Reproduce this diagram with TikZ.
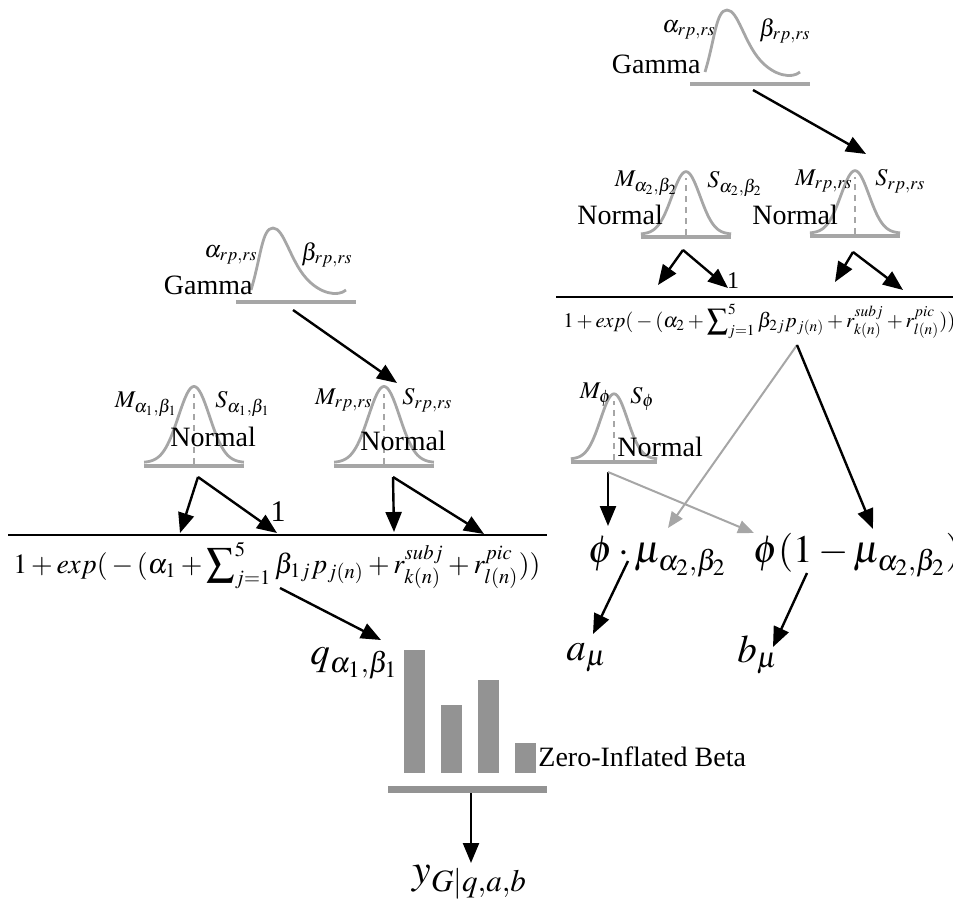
\documentclass[tikz,border=0pt]{standalone}
\usepackage{mathptmx}
\usepackage[no-math]{fontspec}
\setmainfont{Liberation Serif}
\usetikzlibrary{arrows.meta}

\begin{document}
\begin{tikzpicture}[
  x=0.5pt,y=-0.5pt,
  curve/.style={gray!70,line width=1.4pt},
  base/.style={gray!70,line width=2pt},
  par/.style={font=\fontsize{12}{14}\selectfont,inner sep=0pt},
  dist/.style={font=\fontsize{14}{16}\selectfont,inner sep=0pt},
  big/.style={font=\fontsize{19.5}{23}\selectfont,inner sep=0pt},
  ar/.style={-{Triangle[length=10pt,width=8pt]},line width=1.2pt},
  gar/.style={-{Triangle[length=8pt,width=6.5pt]},line width=1pt,gray!70},
  bar/.style={fill=gray!85},
  bell/.pic={
    \draw[curve] plot[domain=-48:48,samples=61,smooth] (\x,{-3-68*exp(-(\x/15)*(\x/15)/2)});
    \draw[curve,line width=0.9pt,dash pattern=on 3pt off 2.5pt] (0,-2) -- (0,-64);
    \draw[base] (-48,0) -- (48,0);
  },
  gam/.pic={
    \draw[curve] (-45,-12) .. controls (-35,-45) and (-34,-74) .. (-23,-74) .. controls (-12,-74) and (-6,-42) .. (10,-24) .. controls (24,-8) and (42,-5) .. (50,-12);
    \draw[base] (-60,0) -- (60,0);
  }
]
\useasboundingbox (0,0) rectangle (953,910);

% right half
\coordinate (gR) at (750,84);
\pic at (gR) {gam};
\node[par,anchor=east] (gRa) at (716,30) {$\alpha_{rp,rs}$};
\node[par,anchor=west] (gRb) at (759,31) {$\beta_{rp,rs}$};
\node[dist,anchor=east] (gRn) at (701,64) {Gamma};

\coordinate (nA2) at (686,237);
\pic[xscale=0.94,yscale=0.92] at (nA2) {bell};
\node[par,anchor=east] (nA2m) at (678,183) {$M_{\alpha_2,\beta_2}$};
\node[par,anchor=west] (nA2s) at (707,184) {$S_{\alpha_2,\beta_2}$};
\node[dist,anchor=west] (nA2n) at (577,215) {Normal};

\coordinate (nRR) at (855,236);
\pic[xscale=0.94,yscale=0.92] at (nRR) {bell};
\node[par,anchor=east] (nRRm) at (853,181) {$M_{rp,rs}$};
\node[par,anchor=west] (nRRs) at (875,181) {$S_{rp,rs}$};
\node[dist,anchor=west] (nRRn) at (752,215) {Normal};

\node[font=\fontsize{12}{14}\selectfont,inner sep=0pt] (oneR) at (733,281) {1};
\draw[line width=1pt] (556,297) coordinate (fR1) -- (953,297) coordinate (fR2);
\node[anchor=base west,inner sep=0pt] (denR) at (563,327) {\resizebox{196pt}{!}{$1+exp({}-{}(\alpha_2+\displaystyle\sum\nolimits_{j=1}^{5}\beta_{2j}p_{j(n)}+r^{subj}_{k(n)}+r^{pic}_{l(n)}))$}};

\coordinate (nPhi) at (614,462);
\pic[xscale=0.9,yscale=0.96] at (nPhi) {bell};
\node[par,anchor=east] (nPhim) at (612,395) {$M_{\phi}$};
\node[par,anchor=west] (nPhis) at (630,399) {$S_{\phi}$};
\node[dist,anchor=west] (nPhin) at (617,447) {Normal};

\node[big,anchor=base west] (phimu) at (588,562) {$\phi\cdot\mu_{\alpha_2,\beta_2}$};
\node[big,anchor=base west] (phione) at (753,562) {$\phi(1-\mu_{\alpha_2,\beta_2})$};
\node[big,anchor=base west] (amu) at (566,660) {$a_{\mu}$};
\node[big,anchor=base west] (bmu) at (737,662) {$b_{\mu}$};

% left half
\coordinate (gL) at (296,302);
\pic at (gL) {gam};
\node[par,anchor=east] (gLa) at (258,255) {$\alpha_{rp,rs}$};
\node[par,anchor=west] (gLb) at (301,255) {$\beta_{rp,rs}$};
\node[dist,anchor=east] (gLn) at (253,285) {Gamma};

\coordinate (nA1) at (194,466);
\pic[xscale=1.04,yscale=1.12] at (nA1) {bell};
\node[par,anchor=east] (nA1m) at (178,404) {$M_{\alpha_1,\beta_1}$};
\node[par,anchor=west] (nA1s) at (215,404) {$S_{\alpha_1,\beta_1}$};
\node[dist,anchor=west] (nA1n) at (170,437) {Normal};

\coordinate (nRL) at (384,466);
\pic[xscale=1.04,yscale=1.12] at (nRL) {bell};
\node[par,anchor=east] (nRLm) at (373,400) {$M_{rp,rs}$};
\node[par,anchor=west] (nRLs) at (402,400) {$S_{rp,rs}$};
\node[dist,anchor=west] (nRLn) at (360,441) {Normal};

\node[font=\fontsize{15}{17}\selectfont,inner sep=0pt] (oneL) at (278,512) {1};
\draw[line width=1pt] (8,535) coordinate (fL1) -- (547,535) coordinate (fL2);
\node[anchor=base west,inner sep=0pt] (denL) at (13,573) {\resizebox{263.5pt}{!}{$1+exp({}-{}(\alpha_1+\displaystyle\sum\nolimits_{j=1}^{5}\beta_{1j}p_{j(n)}+r^{subj}_{k(n)}+r^{pic}_{l(n)}))$}};

\node[big,anchor=base west] (qlab) at (310,664) {$q_{\alpha_1,\beta_1}$};
\fill[bar] (404,650) rectangle (425,773);
\fill[bar] (441,705) rectangle (462,773);
\fill[bar] (478,680) rectangle (499,773);
\fill[bar] (515,743) rectangle (536,773);
\draw[gray!85,line width=3.5pt] (388,789) coordinate (zib1) -- (547,789) coordinate (zib2);
\node[dist,anchor=west] (zib) at (538,757) {Zero-Inflated Beta};
\node[big,font=\fontsize{21}{25}\selectfont,anchor=base west] (ylab) at (412,883) {$y_{G|q,a,b}$};

% arrow ends
\coordinate (gR-o) at (753,90);   \coordinate (nRR-i) at (866,154);
\coordinate (nA2-o) at (683,250); \coordinate (den2-a) at (658,285); \coordinate (den2-b) at (728,288);
\coordinate (nRR-o) at (853,252); \coordinate (den2-c) at (835,282); \coordinate (den2-d) at (903,290);
\coordinate (denR-o) at (797,345);
\coordinate (nPhi-o) at (608,472);
\coordinate (phimu-i) at (608,526); \coordinate (phimu-j) at (668,528);
\coordinate (phione-i) at (754,533); \coordinate (phione-j) at (873,529);
\coordinate (phimu-o) at (628,561); \coordinate (amu-i) at (593,634);
\coordinate (phione-o) at (807,573); \coordinate (bmu-i) at (773,647);
\coordinate (gL-o) at (293,310);  \coordinate (nRL-i) at (397,383);
\coordinate (nA1-o) at (198,477); \coordinate (den1-a) at (180,533); \coordinate (den1-b) at (277,533);
\coordinate (nRL-o) at (393,477); \coordinate (den1-c) at (394,532); \coordinate (den1-d) at (484,534);
\coordinate (denL-o) at (280,588); \coordinate (qlab-i) at (381,640);
\coordinate (zib-o) at (471,793); \coordinate (ylab-i) at (471,863);

\draw[ar] (gR-o) -- (nRR-i);
\draw[ar] (nA2-o) -- (den2-a);
\draw[ar] (nA2-o) -- (den2-b);
\draw[ar] (nRR-o) -- (den2-c);
\draw[ar] (nRR-o) -- (den2-d);
\draw[gar] (denR-o) -- (phimu-j);
\draw[ar] (denR-o) -- (phione-j);
\draw[ar] (nPhi-o) -- (phimu-i);
\draw[gar] (nPhi-o) -- (phione-i);
\draw[ar] (phimu-o) -- (amu-i);
\draw[ar] (phione-o) -- (bmu-i);
\draw[ar] (gL-o) -- (nRL-i);
\draw[ar] (nA1-o) -- (den1-a);
\draw[ar] (nA1-o) -- (den1-b);
\draw[ar] (nRL-o) -- (den1-c);
\draw[ar] (nRL-o) -- (den1-d);
\draw[ar] (denL-o) -- (qlab-i);
\draw[ar] (zib-o) -- (ylab-i);
\end{tikzpicture}
\end{document}
